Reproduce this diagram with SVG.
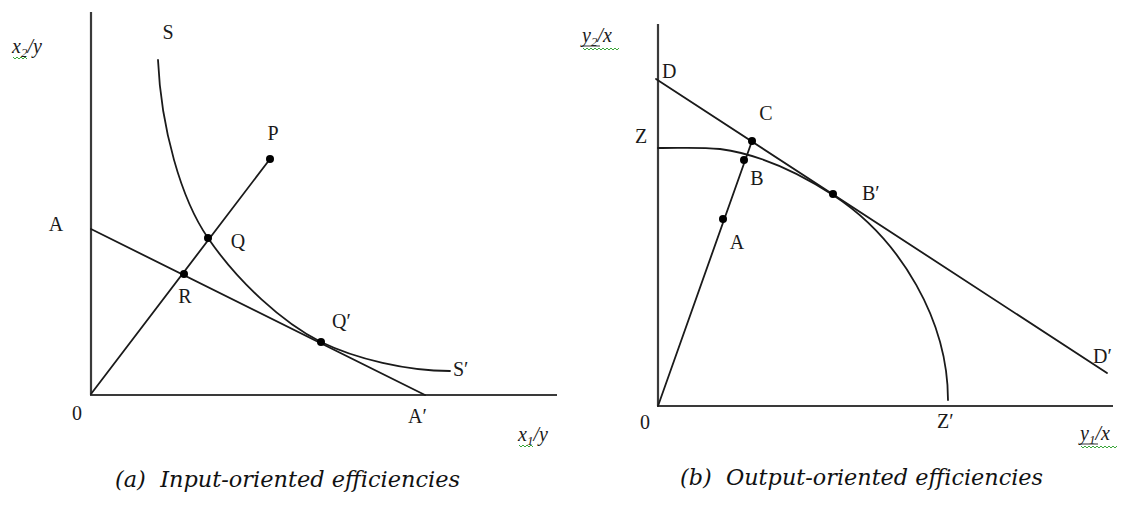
<svg xmlns="http://www.w3.org/2000/svg" width="1126" height="509" viewBox="0 0 1126 509">
<style>
.ax{stroke:#3a3a3a;stroke-width:2.2;fill:none}
.ln{stroke:#1a1a1a;stroke-width:1.8;fill:none;stroke-linecap:round}
.dot{fill:#000}
.lb{font-family:"Liberation Serif","Times New Roman",serif;font-size:20px;fill:#1a1a1a}
.al{font-family:"Liberation Serif","Times New Roman",serif;font-style:italic;font-size:20px;fill:#1a1a1a}
.cap{font-family:"DejaVu Serif","Liberation Serif",serif;font-style:italic;font-size:22px;fill:#111}
.sq{stroke:#3aa63a;stroke-width:1;fill:none}
</style>
<rect width="1126" height="509" fill="#ffffff"/>

<g id="panel-a">
  <g id="axes-a">
    <line class="ax" x1="91" y1="12" x2="91" y2="395"/>
    <line class="ax" x1="90" y1="395" x2="557" y2="395"/>
    <text class="al" x="12" y="53">x<tspan font-size="13" dy="4">2</tspan><tspan dy="-4">/y</tspan></text>
    <path class="sq" d="M13,57 l2,2 l2,-2 l2,2 l2,-2 l2,2 l2,-2 l2,2"/>
    <text class="al" x="518" y="441">x<tspan font-size="13" dy="4">1</tspan><tspan dy="-4">/y</tspan></text>
    <path class="sq" d="M519,445 l2,2 l2,-2 l2,2 l2,-2 l2,2 l2,-2 l2,2"/>
    <text class="lb" x="77" y="420" text-anchor="middle">0</text>
  </g>
  <g id="connectors-a">
    <path id="isoquant-SS" class="ln" d="M158,60 C161,128 181,199 208,238 C238,282 283,323 321,342 C356,359 407,371 450,371"/>
    <line id="line-AA" class="ln" x1="91" y1="229" x2="425" y2="395"/>
    <line id="ray-OP" class="ln" x1="91" y1="394" x2="270" y2="159"/>
  </g>
  <g id="node-S"><text class="lb" x="168" y="39" text-anchor="middle">S</text></g>
  <g id="node-P"><circle class="dot" cx="270" cy="159" r="4"/><text class="lb" x="273" y="140" text-anchor="middle">P</text></g>
  <g id="node-A"><text class="lb" x="56" y="231" text-anchor="middle">A</text></g>
  <g id="node-Q"><circle class="dot" cx="208" cy="238" r="4"/><text class="lb" x="238" y="248" text-anchor="middle">Q</text></g>
  <g id="node-R"><circle class="dot" cx="184" cy="274" r="4"/><text class="lb" x="185" y="303" text-anchor="middle">R</text></g>
  <g id="node-Qp"><circle class="dot" cx="321" cy="342" r="4"/><text class="lb" x="332" y="328">Q′</text></g>
  <g id="node-Sp"><text class="lb" x="453" y="376">S′</text></g>
  <g id="node-Ap"><text class="lb" x="408" y="423">A′</text></g>
  <text class="cap" x="115" y="487" xml:space="preserve" textLength="345" lengthAdjust="spacingAndGlyphs">(a)  Input-oriented efficiencies</text>
</g>

<g id="panel-b">
  <g id="axes-b">
    <line class="ax" x1="658" y1="24" x2="658" y2="406"/>
    <line class="ax" x1="657" y1="406" x2="1113" y2="406"/>
    <text class="al" x="582" y="42">y<tspan font-size="13" dy="4">2</tspan><tspan dy="-4">/x</tspan></text>
    <line x1="582" y1="46" x2="600" y2="46" stroke="#333" stroke-width="1"/>
    <path class="sq" d="M583,48 l2,2 l2,-2 l2,2 l2,-2 l2,2 l2,-2 l2,2 l2,-2 l2,2 l2,-2 l2,2 l2,-2 l2,2 l2,-2 l2,2 l2,-2 l2,2 l2,-2"/>
    <text class="al" x="1080" y="440">y<tspan font-size="13" dy="4">1</tspan><tspan dy="-4">/x</tspan></text>
    <line x1="1080" y1="444" x2="1098" y2="444" stroke="#333" stroke-width="1"/>
    <path class="sq" d="M1081,446 l2,2 l2,-2 l2,2 l2,-2 l2,2 l2,-2 l2,2 l2,-2 l2,2 l2,-2 l2,2 l2,-2 l2,2 l2,-2 l2,2 l2,-2 l2,2 l2,-2"/>
    <text class="lb" x="645" y="429" text-anchor="middle">0</text>
  </g>
  <g id="connectors-b">
    <path id="frontier-ZZ" class="ln" d="M658,148 C685,148 700,147 720,149 C750,153 790,167 833,195 C902,240 948,322 948,400"/>
    <line id="line-DD" class="ln" x1="656" y1="79" x2="1107" y2="373"/>
    <line id="ray-OC" class="ln" x1="658" y1="406" x2="752" y2="141"/>
  </g>
  <g id="node-D"><text class="lb" x="662" y="78">D</text></g>
  <g id="node-Z"><text class="lb" x="641" y="143" text-anchor="middle">Z</text></g>
  <g id="node-C"><circle class="dot" cx="752" cy="141" r="4"/><text class="lb" x="766" y="120" text-anchor="middle">C</text></g>
  <g id="node-B"><circle class="dot" cx="744" cy="160" r="4"/><text class="lb" x="757" y="185" text-anchor="middle">B</text></g>
  <g id="node-Bp"><circle class="dot" cx="833" cy="194" r="4"/><text class="lb" x="862" y="200">B′</text></g>
  <g id="node-A2"><circle class="dot" cx="723" cy="219" r="4"/><text class="lb" x="737" y="249" text-anchor="middle">A</text></g>
  <g id="node-Zp"><text class="lb" x="937" y="428">Z′</text></g>
  <g id="node-Dp"><text class="lb" x="1093" y="363">D′</text></g>
  <text class="cap" x="680" y="485" xml:space="preserve" textLength="363" lengthAdjust="spacingAndGlyphs">(b)  Output-oriented efficiencies</text>
</g>
</svg>
